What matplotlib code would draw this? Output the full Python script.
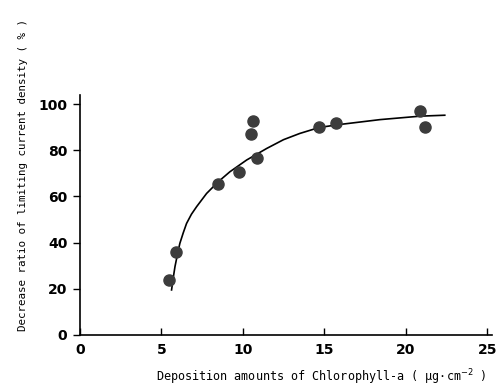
import matplotlib.pyplot as plt

# measured points
chl = [5.5, 5.9, 8.5, 9.8, 10.5, 10.6, 10.9, 14.7, 15.7, 20.9, 21.2]
ratio = [24, 36, 65.5, 70.5, 87, 92.5, 76.5, 90, 92, 97, 90]

# fitted curve
curve_x = [5.63, 5.75, 5.84, 6.0, 6.14, 6.35, 6.55, 6.85, 7.17, 7.78, 8.5,
           9.21, 10.24, 11.47, 12.5, 13.5, 14.7, 15.97, 18.43, 20.9, 22.4]
curve_y = [19.5, 25.5, 29.6, 35.2, 39.7, 44.3, 48.3, 52.3, 55.6, 61.3, 66.4,
           70.7, 75.8, 80.8, 84.6, 87.3, 89.9, 91.2, 93.3, 94.8, 95.2]

xticks = [0, 5, 10, 15, 20, 25]
yticks = [0, 20, 40, 60, 80, 100]

plt.rcParams['font.family'] = ['DejaVu Sans Mono', 'DejaVu Sans']

fig = plt.figure(figsize=(4.99, 3.89), dpi=100)
ax = fig.add_axes([0.160, 0.139, 0.826, 0.617])

ax.plot(curve_x, curve_y, color='black', lw=1.2, zorder=2)
ax.plot(chl, ratio, 'o', color='#3c3c3c', markersize=8, zorder=3)

ax.set_xlim(0, 25.3)
ax.set_ylim(0, 104)
ax.set_xticks(xticks)
ax.set_yticks(yticks)
ax.spines['top'].set_visible(False)
ax.spines['right'].set_visible(False)
ax.spines['left'].set_linewidth(1.2)
ax.spines['bottom'].set_linewidth(1.2)
ax.tick_params(axis='x', direction='in', length=5, width=1, labelsize=10, pad=6)
ax.tick_params(axis='y', direction='out', length=5, width=1, labelsize=10, pad=4)
for lab in ax.get_xticklabels() + ax.get_yticklabels():
    lab.set_fontweight('bold')
    lab.set_family('DejaVu Sans')

ax.set_xlabel('Deposition amounts of Chlorophyll-a ( μg·cm$^{-2}$ )', fontsize=8.5)
ax.set_ylabel('Decrease ratio of limiting current density ( % )', fontsize=7.8)
ax.xaxis.set_label_coords(0.585, -0.135)
ax.yaxis.set_label_coords(-0.125, 0.665)

fig.savefig('out.png', dpi=100)
